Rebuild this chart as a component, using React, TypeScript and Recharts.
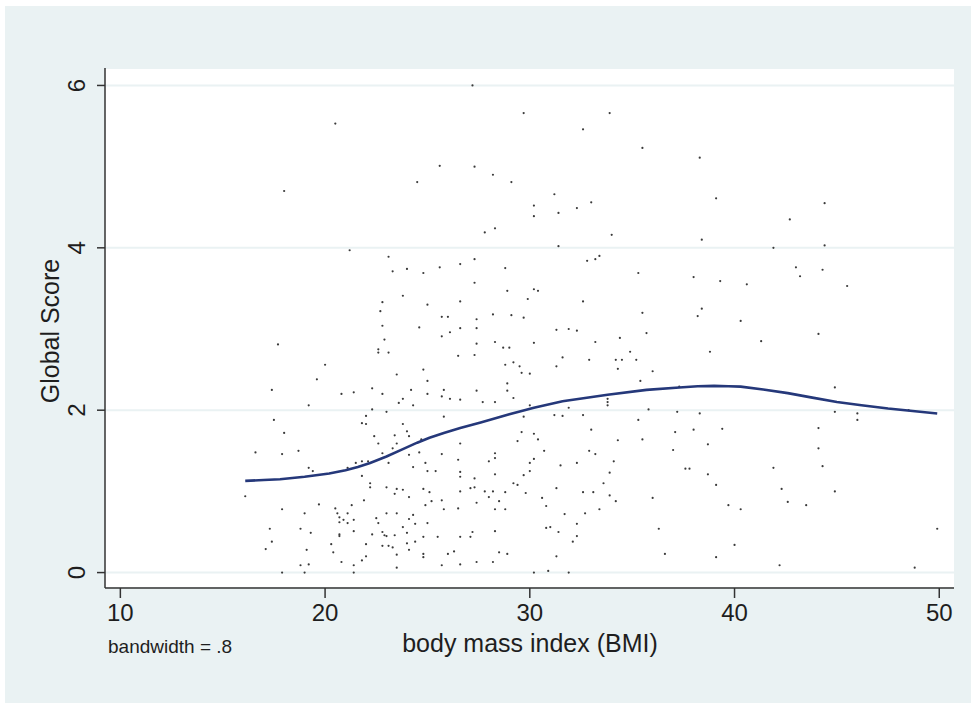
import React from 'react';
import { ScatterChart, Scatter, XAxis, YAxis, CartesianGrid } from 'recharts';

const observations: [number, number][] = [
  [27.2, 6.0], [20.5, 5.53], [18.0, 4.7], [24.5, 4.81], [25.6, 5.01], [27.3, 5.0],
  [29.7, 5.66], [33.9, 5.66], [32.6, 5.46], [35.5, 5.23], [38.3, 5.11], [28.2, 4.9],
  [29.1, 4.81], [31.2, 4.66], [30.2, 4.52], [31.4, 4.43], [32.3, 4.49], [33.0, 4.56],
  [30.2, 4.39], [39.1, 4.61], [27.8, 4.19], [28.3, 4.24], [34.0, 4.16], [38.4, 4.1],
  [31.4, 4.02], [32.8, 3.84], [33.2, 3.86], [33.4, 3.9], [28.8, 3.75], [35.3, 3.69],
  [38.0, 3.64], [39.3, 3.59], [28.9, 3.47], [30.2, 3.49], [30.4, 3.47], [29.9, 3.37],
  [32.6, 3.34], [35.5, 3.2], [38.2, 3.16], [38.4, 3.25], [28.2, 3.18], [29.1, 3.17],
  [29.7, 3.14], [31.3, 2.99], [31.9, 3.0], [32.3, 2.98], [35.7, 2.95], [28.3, 2.84],
  [28.7, 2.77], [29.0, 2.77], [30.2, 2.83], [33.2, 2.84], [34.4, 2.89], [34.9, 2.72],
  [28.8, 2.56], [29.2, 2.59], [29.5, 2.54], [29.6, 2.46], [30.0, 2.45], [31.3, 2.54],
  [31.6, 2.65], [32.9, 2.62], [34.2, 2.62], [34.5, 2.62], [34.3, 2.51], [35.2, 2.62],
  [36.0, 2.48], [38.8, 2.72],
  [21.2, 3.97], [23.1, 3.89], [23.3, 3.71], [24.0, 3.74], [24.8, 3.69], [25.6, 3.76],
  [26.6, 3.8], [27.3, 3.86], [27.3, 3.57], [23.8, 3.41], [22.8, 3.33], [22.7, 3.22],
  [25.0, 3.3], [26.6, 3.34], [25.7, 3.15], [26.0, 3.15], [27.4, 3.12], [22.8, 3.04],
  [24.6, 3.02], [26.6, 3.01], [27.4, 3.01], [22.9, 2.87], [25.7, 2.91], [26.1, 2.96],
  [27.4, 2.82], [17.7, 2.81], [22.6, 2.75], [22.6, 2.71], [23.1, 2.71], [26.5, 2.67],
  [27.3, 2.68], [20.0, 2.56], [24.8, 2.5], [23.5, 2.44], [25.0, 2.36], [19.6, 2.38],
  [17.4, 2.25], [20.8, 2.2], [21.4, 2.22], [22.3, 2.27], [22.8, 2.2], [24.2, 2.25],
  [25.0, 2.2], [25.8, 2.25], [25.7, 2.17], [26.1, 2.14], [26.6, 2.13], [23.8, 2.14],
  [27.4, 2.24],
  [19.2, 2.06], [22.3, 2.01], [23.0, 1.98], [23.6, 2.09], [24.3, 2.06], [17.5, 1.88],
  [22.0, 1.93], [21.8, 1.84], [22.0, 1.83], [23.8, 1.83], [25.8, 1.92], [18.0, 1.72],
  [22.4, 1.68], [23.4, 1.69], [24.0, 1.74], [24.1, 1.68], [22.6, 1.59], [23.5, 1.59],
  [24.7, 1.64], [26.6, 1.59], [16.6, 1.48], [17.9, 1.46], [18.7, 1.5], [22.8, 1.47],
  [23.3, 1.53], [24.1, 1.45], [24.6, 1.48], [25.7, 1.46], [26.5, 1.39], [19.2, 1.29],
  [19.4, 1.25], [21.5, 1.35], [21.8, 1.37], [22.1, 1.37], [21.1, 1.29], [23.1, 1.35],
  [24.9, 1.35], [24.3, 1.3], [25.0, 1.25], [25.4, 1.25], [26.6, 1.24], [26.6, 1.18],
  [27.3, 1.16], [21.8, 1.19], [16.1, 0.94], [22.2, 1.05], [22.2, 1.1], [23.0, 1.05],
  [23.5, 1.03], [23.8, 1.02], [24.8, 1.03], [25.1, 0.99], [23.4, 0.97], [24.1, 0.93],
  [27.1, 1.04], [27.3, 1.05], [26.6, 1.0], [25.7, 0.89], [25.2, 0.88], [21.9, 0.89],
  [19.7, 0.84], [24.9, 0.83], [27.4, 0.86], [17.9, 0.78], [20.5, 0.79], [21.3, 0.83],
  [19.0, 0.73], [20.6, 0.73], [21.1, 0.73], [23.0, 0.73], [23.5, 0.73], [24.3, 0.71],
  [25.8, 0.78], [26.5, 0.79], [20.7, 0.68], [20.9, 0.65], [22.5, 0.67], [24.1, 0.66],
  [20.7, 0.62], [21.1, 0.61], [21.4, 0.65], [22.6, 0.61], [23.8, 0.56], [24.4, 0.6],
  [25.0, 0.61], [17.3, 0.54], [18.8, 0.54], [19.3, 0.49], [21.4, 0.51], [22.3, 0.47],
  [20.7, 0.47], [20.7, 0.45], [22.8, 0.5], [22.9, 0.46], [23.0, 0.45], [23.4, 0.46],
  [24.0, 0.49], [24.8, 0.44], [25.5, 0.44], [26.6, 0.44], [27.1, 0.44], [27.2, 0.5],
  [17.4, 0.38], [22.0, 0.35], [22.8, 0.33], [23.3, 0.31], [23.1, 0.33], [24.0, 0.36],
  [24.4, 0.38], [17.1, 0.29], [19.1, 0.28], [20.3, 0.35], [20.4, 0.25], [24.1, 0.28],
  [23.5, 0.22], [22.0, 0.2], [24.8, 0.23], [24.8, 0.19], [26.0, 0.23], [26.3, 0.26],
  [20.8, 0.13], [21.4, 0.09], [21.8, 0.15], [18.8, 0.09], [19.2, 0.1], [23.5, 0.06],
  [25.7, 0.09], [26.6, 0.1], [27.4, 0.13], [17.9, 0.0], [19.0, 0.0], [21.4, 0.0],
  [28.9, 2.33], [28.9, 2.24], [29.2, 2.15], [27.7, 2.1], [28.3, 2.1], [30.0, 2.06],
  [35.4, 2.36], [37.3, 2.29], [33.8, 2.14], [33.8, 2.1], [33.8, 2.06], [31.9, 2.03],
  [35.8, 2.01], [31.2, 1.94], [31.6, 1.93], [32.6, 1.94], [29.7, 1.92], [37.2, 1.98],
  [38.3, 1.96], [35.3, 1.88], [29.6, 1.73], [30.2, 1.71], [33.0, 1.76], [37.1, 1.73],
  [38.0, 1.76], [39.4, 1.77], [29.4, 1.62], [30.4, 1.64], [34.3, 1.63], [35.5, 1.64],
  [38.7, 1.58], [30.7, 1.5], [32.9, 1.5], [33.2, 1.46], [37.0, 1.51], [28.3, 1.47],
  [28.3, 1.41], [28.0, 1.37], [30.2, 1.4], [30.0, 1.35], [31.5, 1.32], [32.3, 1.35],
  [34.1, 1.37], [37.6, 1.28], [37.8, 1.28], [33.9, 1.23], [28.3, 1.21], [29.7, 1.2],
  [30.0, 1.25], [38.7, 1.21], [29.2, 1.1], [29.4, 1.08], [33.6, 1.1], [39.1, 1.08],
  [27.8, 1.0], [28.2, 1.0], [28.8, 0.99], [29.8, 0.98], [31.3, 1.04], [32.6, 0.99],
  [33.1, 0.99], [33.9, 0.95], [28.0, 0.93], [28.5, 0.88], [30.6, 0.92], [34.2, 0.88],
  [36.0, 0.92], [30.8, 0.82], [39.7, 0.83], [28.3, 0.78], [28.8, 0.78], [31.7, 0.72],
  [32.7, 0.73], [33.4, 0.78], [30.8, 0.55], [31.0, 0.56], [31.4, 0.5], [32.3, 0.6],
  [28.3, 0.51], [32.3, 0.45], [36.3, 0.54], [32.1, 0.38], [28.5, 0.25], [28.9, 0.23],
  [31.3, 0.2], [36.6, 0.23], [39.1, 0.19], [28.2, 0.13], [30.2, 0.0], [30.9, 0.02],
  [31.9, 0.0],
  [44.4, 4.55], [42.7, 4.35], [41.9, 4.0], [44.4, 4.03], [43.0, 3.76], [43.2, 3.65],
  [44.3, 3.73], [40.6, 3.55], [45.5, 3.53], [40.3, 3.1], [44.1, 2.94], [41.3, 2.85],
  [44.9, 2.28], [44.9, 1.98], [46.0, 1.96], [46.0, 1.88], [48.5, 2.0], [44.1, 1.78],
  [44.1, 1.53], [44.3, 1.31], [41.9, 1.29], [42.3, 1.03], [42.6, 0.87], [43.5, 0.83],
  [40.3, 0.78], [44.9, 1.0], [40.0, 0.34], [42.2, 0.09], [48.8, 0.06], [49.9, 0.54],
];

// lowess smooth
const lowessBmi = [16.1, 17.0, 17.8, 19.0, 20.2, 21.0, 21.6, 22.2, 23.0, 23.8, 24.5, 25.1, 25.8, 26.6, 27.6, 29.0, 30.2, 31.6, 32.7, 33.8, 35.7, 37.3, 38.2, 39.0, 39.7, 40.3, 41.4, 42.6, 43.8, 45.0, 46.2, 47.5, 48.7, 49.9];
const lowessScore = [1.13, 1.14, 1.15, 1.18, 1.22, 1.26, 1.30, 1.35, 1.43, 1.52, 1.60, 1.66, 1.72, 1.78, 1.85, 1.95, 2.03, 2.11, 2.15, 2.19, 2.25, 2.28, 2.295, 2.30, 2.295, 2.29, 2.255, 2.21, 2.155, 2.10, 2.06, 2.02, 1.99, 1.96];

const xTicks = [10, 20, 30, 40, 50];
const yTicks = [0, 2, 4, 6];

const FONT = '"Liberation Sans", Arial, sans-serif';
const BG = '#eaf2f3';
const TEXT = '#1e1e1e';

const points = observations.map(([bmi, score]) => ({ bmi, score }));
const lowess = lowessBmi.map((bmi, i) => ({ bmi, score: lowessScore[i] }));

const Dot = (props: any) => <circle cx={props.cx} cy={props.cy} r={1.1} fill="#3a3a3a" />;

const XTick = ({ x, payload }: any) => (
  <text x={x} y={621} textAnchor="middle" fontSize={24} fontFamily={FONT} fill={TEXT}>
    {payload.value}
  </text>
);

const YTick = ({ y, payload }: any) => (
  <text
    x={0}
    y={0}
    transform={`translate(85, ${y}) rotate(-90)`}
    textAnchor="middle"
    fontSize={24}
    fontFamily={FONT}
    fill={TEXT}
  >
    {payload.value}
  </text>
);

export default function App() {
  return (
    <div style={{ position: 'absolute', left: 0, top: 0, width: 974, height: 709, background: '#fff' }}>
      <div style={{ position: 'absolute', left: 5, top: 6, width: 966, height: 697, background: BG }} />
      <div style={{ position: 'absolute', left: 0, top: 0 }}>
        <ScatterChart width={974} height={709} margin={{ top: 68, right: 20, bottom: 0, left: 0 }}>
          <CartesianGrid vertical={false} stroke={BG} strokeWidth={2} fill="#fff" />
          <XAxis
            type="number"
            dataKey="bmi"
            domain={[9.25, 50.72]}
            ticks={xTicks}
            allowDataOverflow
            height={121}
            tickSize={10}
            axisLine={{ stroke: '#333', strokeWidth: 1.5 }}
            tickLine={{ stroke: '#333', strokeWidth: 1.5 }}
            tick={<XTick />}
          />
          <YAxis
            type="number"
            dataKey="score"
            domain={[-0.19, 6.215]}
            ticks={yTicks}
            allowDataOverflow
            width={105}
            tickSize={8}
            axisLine={{ stroke: '#333', strokeWidth: 1.5 }}
            tickLine={{ stroke: '#333', strokeWidth: 1.5 }}
            tick={<YTick />}
          />
          <Scatter data={points} shape={<Dot />} isAnimationActive={false} />
          <Scatter
            data={lowess}
            line={{ stroke: '#25387a', strokeWidth: 2.6 }}
            shape={() => null}
            isAnimationActive={false}
          />
        </ScatterChart>
      </div>
      <div
        style={{
          position: 'absolute', left: 530, top: 628, transform: 'translateX(-50%)',
          whiteSpace: 'nowrap', fontFamily: FONT, fontSize: 25, color: TEXT, lineHeight: '30px',
        }}
      >
        body mass index (BMI)
      </div>
      <div
        style={{
          position: 'absolute', left: 108, top: 636, fontFamily: FONT, fontSize: 19,
          color: TEXT, lineHeight: '22px',
        }}
      >
        bandwidth = .8
      </div>
      <div
        style={{
          position: 'absolute', left: 50, top: 331, transform: 'translate(-50%, -50%) rotate(-90deg)',
          fontFamily: FONT, fontSize: 25, color: TEXT, whiteSpace: 'nowrap', lineHeight: '30px',
        }}
      >
        Global Score
      </div>
    </div>
  );
}
